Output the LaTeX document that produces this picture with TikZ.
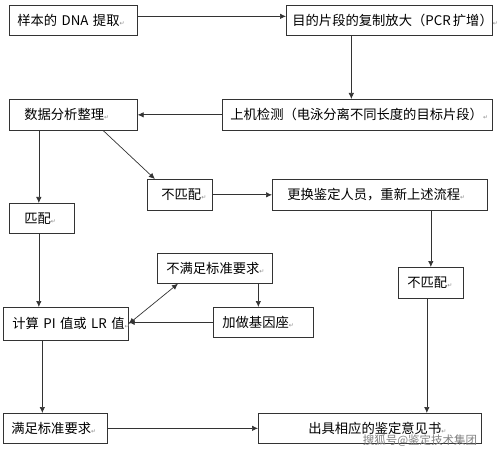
\documentclass[tikz,border=0pt]{standalone}
\usepackage{fontspec}
\setmainfont{Noto Sans CJK SC}
\newfontfamily\markfont{DejaVu Sans}
\usetikzlibrary{arrows, arrows.meta}

\newcommand{\retmark}{{\markfont\fontsize{6}{6}\selectfont\textcolor{black!45}{↵}}}

\begin{document}
\begin{tikzpicture}[x=1pt, y=-1pt, >={Latex[length=6pt,width=5.5pt]}, line width=0.7pt,
    box/.style={draw=black!80, anchor=north west, minimum height=30pt,
        inner xsep=0pt, inner ysep=0pt, align=left,
        font=\fontsize{13.3}{15}\selectfont},
    link/.style={->, draw=black!80}]
    \useasboundingbox (0,0) rectangle (499,452);

    \node[box, text width=128pt] (sample) at (9,5) {\hspace*{8pt}样本的~DNA~提取\retmark};
    \node[box, text width=206pt] (pcr) at (286,5) {\hspace*{6pt}目的片段的复制放大（PCR\,扩增）\retmark};
    \node[box, text width=270pt, minimum height=31pt] (detect) at (222,99) {\hspace*{8pt}上机检测（电泳分离不同长度的目标片段）\retmark};
    \node[box, text width=128pt, minimum height=31pt] (analysis) at (9,99) {\hspace*{15pt}数据分析整理\retmark};
    \node[box, text width=65pt, minimum height=31pt] (mismatch1) at (147,179) {\hspace*{14pt}不匹配\retmark};
    \node[box, text width=215pt, minimum height=31pt] (redo) at (272,179) {\hspace*{15pt}更换鉴定人员，重新上述流程\retmark};
    \node[box, text width=65pt] (match) at (9,203) {\hspace*{15pt}匹配\retmark};
    \node[box, text width=115pt] (fail) at (157,253) {\hspace*{9pt}不满足标准要求\retmark};
    \node[box, text width=125pt, minimum height=33pt] (calc) at (3,307) {\hspace*{9pt}计算~PI~值或~LR~值\retmark};
    \node[box, text width=100pt] (addloci) at (213,307) {\hspace*{9pt}加做基因座\retmark};
    \node[box, text width=65pt, minimum height=31pt] (mismatch2) at (398,267) {\hspace*{9pt}不匹配\retmark};
    \node[box, text width=104pt] (pass) at (3,413) {\hspace*{8pt}满足标准要求\retmark};
    \node[box, text width=223pt] (report) at (258,413) {\hspace*{50pt}出具相应的鉴定意见书\retmark};

    % watermark
    \node[text=black!50, font=\fontsize{11.5}{11.5}\selectfont, inner sep=0pt] (watermark) at (420,441) {搜狐号@鉴定技术集团};

    \draw[link] ([yshift=4pt]sample.east) -- ([yshift=4pt]pcr.west);
    \draw[link] ([xshift=-38pt]pcr.south) -- ([xshift=-38pt]pcr.south |- detect.north);
    \draw[link] (detect.west) -- (analysis.east);
    \draw[link] ([xshift=30pt]analysis.south) -- ([xshift=-25pt]mismatch1.north);
    \draw[link] ([xshift=-3pt]match.north |- analysis.south) -- ([xshift=-3pt]match.north);
    \draw[link] (mismatch1.east) -- (redo.west);
    \draw[link] (redo.south -| mismatch2.north) -- (mismatch2.north);
    \draw[link] ([xshift=-3pt]match.south) -- ([xshift=-3pt]match.south |- calc.north);
    \draw[link] ([xshift=-5pt]addloci.north |- fail.south) -- ([xshift=-5pt]addloci.north);
    \draw[link] (addloci.west) -- (addloci.west -| calc.east);
    \draw[link, <->] (calc.east) -- ([xshift=21pt]fail.south west);
    \draw[link] ([xshift=-4pt]mismatch2.south) -- ([xshift=-4pt]mismatch2.south |- report.north);
    \draw[link] ([xshift=-13pt]pass.north |- calc.south) -- ([xshift=-13pt]pass.north);
    \draw[link] (pass.east) -- (report.west);
\end{tikzpicture}
\end{document}
